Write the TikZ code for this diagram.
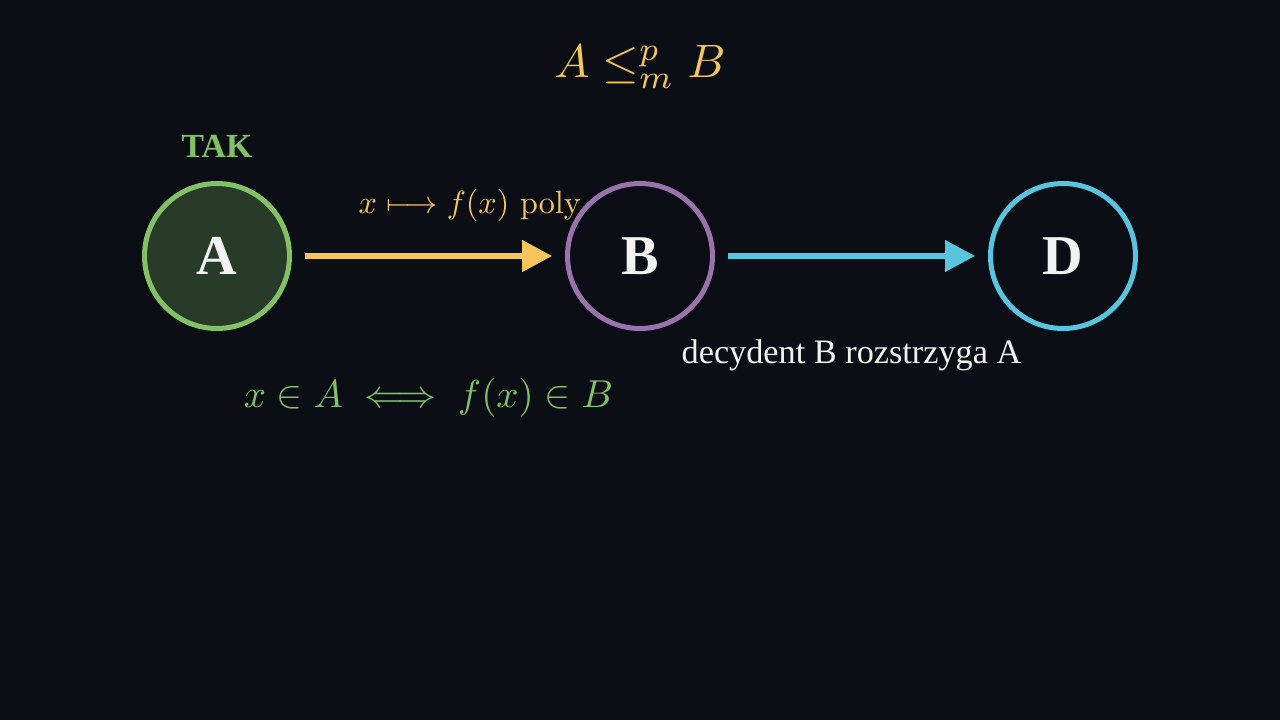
\documentclass[tikz,border=0pt]{standalone}
\usepackage[no-math]{fontspec}
\usepackage{graphicx}
\usepackage{amsmath}
\usepackage{amssymb}
\usetikzlibrary{arrows.meta}
\newfontfamily\timesfont{Liberation Serif}

\definecolor{bg}{HTML}{0B0E14}
\definecolor{setgreen}{HTML}{83C167}
\definecolor{setfill}{HTML}{283B29}
\definecolor{setpurple}{HTML}{9A72AC}
\definecolor{setblue}{HTML}{58C4DD}
\definecolor{mapyellow}{HTML}{F4C55A}
\definecolor{textwhite}{HTML}{F2F2F2}

% math set at 10pt and blown up
\newcommand{\bigmath}[2]{\scalebox{#1}{$#2$}}

\tikzset{
  set/.style={circle, line width=2.85pt, minimum size=2.9cm, inner sep=0pt,
    text=textwhite, font=\timesfont\bfseries\fontsize{32}{38}\selectfont},
  reduce/.style={line width=2.85pt, -{Triangle[length=0.6cm, width=0.62cm]},
    shorten <=0.26cm, shorten >=0.26cm},
}

\begin{document}
\begin{tikzpicture}
    \fill[bg] (0,0) rectangle (25.6,14.4);
    \node[mapyellow] (title) at (12.8,13.06) {\bigmath{2.67}{A \leq^p_m B}};

    \node[set, draw=setgreen, fill=setfill] (A) at (4.34,9.28) {A};
    \node[set, draw=setpurple] (B) at (12.8,9.28) {B};
    \node[set, draw=setblue] (D) at (21.26,9.28) {D};
    \node[setgreen, font=\timesfont\bfseries\fontsize{19.2}{23}\selectfont] (tak) at (4.34,11.48) {TAK};

    \draw[reduce, mapyellow] (A) -- (B)
    node[midway, xshift=0.83cm, yshift=1.02cm] {\bigmath{1.83}{x \longmapsto f(x)\ \mathrm{poly}}}
    node[midway, yshift=-2.84cm, setgreen] {\bigmath{2.22}{x \in A \iff f(x) \in B}};

    \draw[reduce, setblue] (B) -- (D)
    node[midway, yshift=-1.98cm, textwhite, font=\timesfont\fontsize{19.5}{23}\selectfont] {decydent B rozstrzyga A};
\end{tikzpicture}
\end{document}
